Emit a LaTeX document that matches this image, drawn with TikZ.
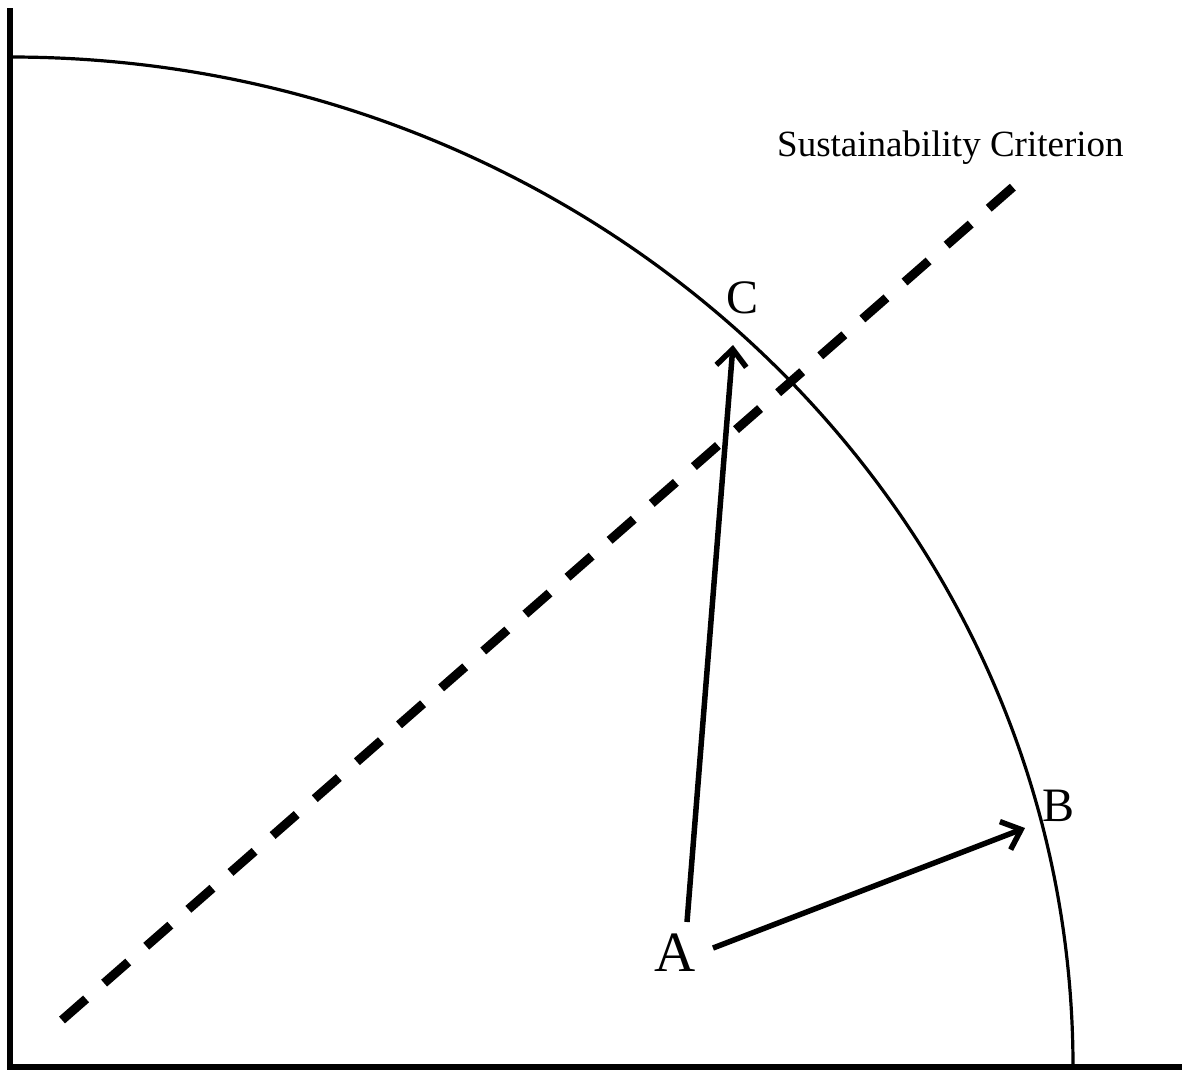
\documentclass[tikz,border=0pt]{standalone}
\usepackage{fontspec}
\setmainfont{Liberation Serif}
\usetikzlibrary{arrows.meta}
\begin{document}
\begin{tikzpicture}[x=1pt,y=-1pt,
  axis/.style={line width=5.5pt},
  frontier/.style={line width=3.2pt},
  crit/.style={line width=9pt, dash pattern=on 32pt off 24pt},
  move/.style={line width=5.5pt, -{Straight Barb[length=17pt,width=30pt,line width=5.5pt]}},
  lbl/.style={inner sep=0pt, font=\fontsize{48}{48}\selectfont}]
\useasboundingbox (0,0) rectangle (1182,1072);
\coordinate (O) at (10,1067);
\coordinate (Ytop) at (10,8);
\coordinate (Xend) at (1182,1067);
\draw[axis] (Ytop) -- (O) -- (Xend);
\coordinate (F0) at (10,57);
\draw[frontier] (F0) arc[start angle=-90, end angle=0, x radius=1063, y radius=1010];
\coordinate (S1) at (62,1020);
\coordinate (S2) at (1013,187);
\draw[crit] (S1) -- (S2);
\node[inner sep=0pt, anchor=west, font=\fontsize{37}{37}\selectfont] (sc) at (777,148) {Sustainability Criterion};
\node[lbl, font=\fontsize{57}{57}\selectfont] (A) at (675,953) {A};
\node[lbl] (B) at (1058,806) {B};
\node[lbl] (C) at (742,298) {C};
\coordinate (Aup) at (687,922);
\coordinate (Ctip) at (733,345);
\coordinate (Aright) at (713,948);
\coordinate (Btip) at (1025,828);
\draw[move] (Aup) -- (Ctip);
\draw[move] (Aright) -- (Btip);
\end{tikzpicture}
\end{document}
